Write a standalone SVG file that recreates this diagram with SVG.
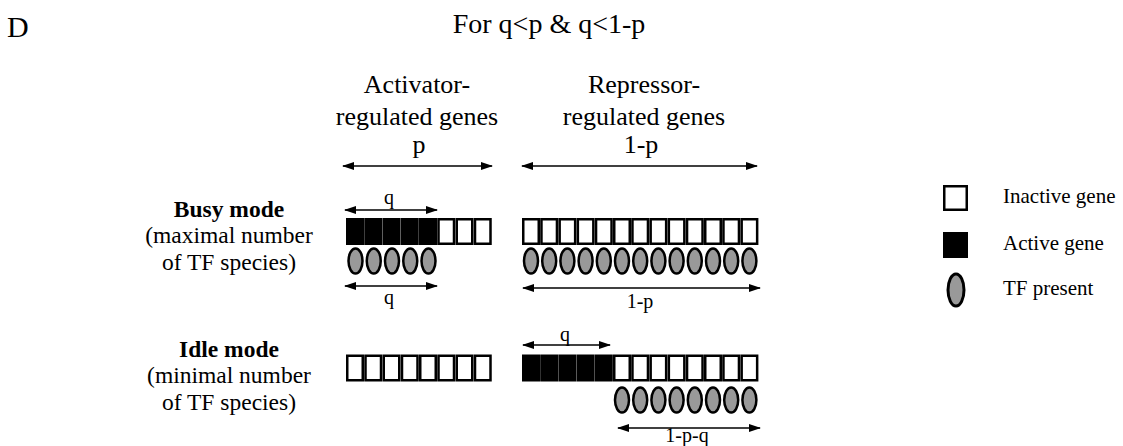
<svg xmlns="http://www.w3.org/2000/svg" width="1123" height="446" viewBox="0 0 1123 446">
<defs>
<marker id="ah" viewBox="0 0 12 8" refX="11" refY="4" markerWidth="12" markerHeight="8" markerUnits="userSpaceOnUse" orient="auto-start-reverse">
<path d="M0,0 L12,4 L0,8 Z" fill="#000"/>
</marker>
<rect id="gw" width="15.5" height="24.5" fill="#fff" stroke="#000" stroke-width="2.5"/>
<rect id="gb" width="15.5" height="24.5" fill="#000" stroke="#000" stroke-width="2.5"/>
<ellipse id="tf" rx="7" ry="12.5" fill="#999" stroke="#000" stroke-width="2.5"/>
</defs>
<style>
text{font-family:"Liberation Serif","Times New Roman",serif;fill:#000}
.t{font-size:28px}
.h{font-size:26px;text-anchor:middle}
.l{font-size:23.5px;text-anchor:middle}
.b{font-weight:bold}
.a{font-size:20px;text-anchor:middle}
.g{font-size:21px}
.ar{stroke:#000;stroke-width:1.5;fill:none;marker-start:url(#ah);marker-end:url(#ah)}
</style>
<rect width="1123" height="446" fill="#fff"/>
<g id="title">
<text class="t" x="7" y="37" style="font-size:30px">D</text>
<text class="t" x="549" y="33" text-anchor="middle">For q&lt;p &amp; q&lt;1-p</text>
</g>
<g id="headers">
<text class="h" x="417" y="93">Activator-</text>
<text class="h" x="417" y="125">regulated genes</text>
<text class="h" x="419" y="153">p</text>
<text class="h" x="644" y="93">Repressor-</text>
<text class="h" x="644" y="125">regulated genes</text>
<text class="h" x="641" y="153">1-p</text>
</g>
<g id="labels">
<text class="l b" x="229" y="217">Busy mode</text>
<text class="l" x="229" y="243">(maximal number</text>
<text class="l" x="229" y="270">of TF species)</text>
<text class="l b" x="229" y="357">Idle mode</text>
<text class="l" x="229" y="383">(minimal number</text>
<text class="l" x="229" y="410">of TF species)</text>
</g>
<g id="busy-activator">
<use href="#gb" x="347.25" y="219.25"/><use href="#gb" x="365.5" y="219.25"/><use href="#gb" x="383.75" y="219.25"/><use href="#gb" x="402" y="219.25"/><use href="#gb" x="420.25" y="219.25"/>
<use href="#gw" x="438.5" y="219.25"/><use href="#gw" x="456.75" y="219.25"/><use href="#gw" x="475" y="219.25"/>
<use href="#tf" x="355.5" y="261"/><use href="#tf" x="373.75" y="261"/><use href="#tf" x="392" y="261"/><use href="#tf" x="410.25" y="261"/><use href="#tf" x="428.5" y="261"/>
</g>
<g id="busy-repressor">
<use href="#gw" x="523.25" y="219.25"/><use href="#gw" x="541.45" y="219.25"/><use href="#gw" x="559.65" y="219.25"/><use href="#gw" x="577.85" y="219.25"/><use href="#gw" x="596.05" y="219.25"/><use href="#gw" x="614.25" y="219.25"/><use href="#gw" x="632.45" y="219.25"/><use href="#gw" x="650.65" y="219.25"/><use href="#gw" x="668.85" y="219.25"/><use href="#gw" x="687.05" y="219.25"/><use href="#gw" x="705.25" y="219.25"/><use href="#gw" x="723.45" y="219.25"/><use href="#gw" x="741.65" y="219.25"/>
<use href="#tf" x="531" y="261"/><use href="#tf" x="549.2" y="261"/><use href="#tf" x="567.4" y="261"/><use href="#tf" x="585.6" y="261"/><use href="#tf" x="603.8" y="261"/><use href="#tf" x="622" y="261"/><use href="#tf" x="640.2" y="261"/><use href="#tf" x="658.4" y="261"/><use href="#tf" x="676.6" y="261"/><use href="#tf" x="694.8" y="261"/><use href="#tf" x="713" y="261"/><use href="#tf" x="731.2" y="261"/><use href="#tf" x="749.4" y="261"/>
</g>
<g id="idle-activator">
<use href="#gw" x="347.25" y="355.75"/><use href="#gw" x="365.5" y="355.75"/><use href="#gw" x="383.75" y="355.75"/><use href="#gw" x="402" y="355.75"/><use href="#gw" x="420.25" y="355.75"/><use href="#gw" x="438.5" y="355.75"/><use href="#gw" x="456.75" y="355.75"/><use href="#gw" x="475" y="355.75"/>
</g>
<g id="idle-repressor">
<use href="#gb" x="523.25" y="355.75"/><use href="#gb" x="541.45" y="355.75"/><use href="#gb" x="559.65" y="355.75"/><use href="#gb" x="577.85" y="355.75"/><use href="#gb" x="596.05" y="355.75"/>
<use href="#gw" x="614.25" y="355.75"/><use href="#gw" x="632.45" y="355.75"/><use href="#gw" x="650.65" y="355.75"/><use href="#gw" x="668.85" y="355.75"/><use href="#gw" x="687.05" y="355.75"/><use href="#gw" x="705.25" y="355.75"/><use href="#gw" x="723.45" y="355.75"/><use href="#gw" x="741.65" y="355.75"/>
<use href="#tf" x="622" y="400"/><use href="#tf" x="640.2" y="400"/><use href="#tf" x="658.4" y="400"/><use href="#tf" x="676.6" y="400"/><use href="#tf" x="694.8" y="400"/><use href="#tf" x="713" y="400"/><use href="#tf" x="731.2" y="400"/><use href="#tf" x="749.4" y="400"/>
</g>
<g id="connectors">
<line class="ar" x1="343" y1="166" x2="492" y2="166"/>
<line class="ar" x1="522" y1="166" x2="757" y2="166"/>
<line class="ar" x1="345" y1="210" x2="437" y2="210"/>
<line class="ar" x1="345" y1="286" x2="437" y2="286"/>
<line class="ar" x1="523" y1="288" x2="760" y2="288"/>
<line class="ar" x1="523" y1="345" x2="610" y2="345"/>
<line class="ar" x1="618" y1="428" x2="760" y2="428"/>
</g>
<g id="arrow-labels">
<text class="a" x="389" y="204">q</text>
<text class="a" x="389" y="304">q</text>
<text class="a" x="640" y="308">1-p</text>
<text class="a" x="565" y="341">q</text>
<text class="a" x="687" y="442">1-p-q</text>
</g>
<g id="legend">
<rect x="944.25" y="186.25" width="22.5" height="23.5" fill="#fff" stroke="#000" stroke-width="2.5"/>
<text class="g" x="1003" y="203">Inactive gene</text>
<rect x="944.25" y="233.25" width="22.5" height="23.5" fill="#000" stroke="#000" stroke-width="2.5"/>
<text class="g" x="1003" y="250">Active gene</text>
<ellipse cx="956" cy="290" rx="8" ry="16" fill="#999" stroke="#000" stroke-width="3"/>
<text class="g" x="1003" y="295">TF present</text>
</g>
</svg>
